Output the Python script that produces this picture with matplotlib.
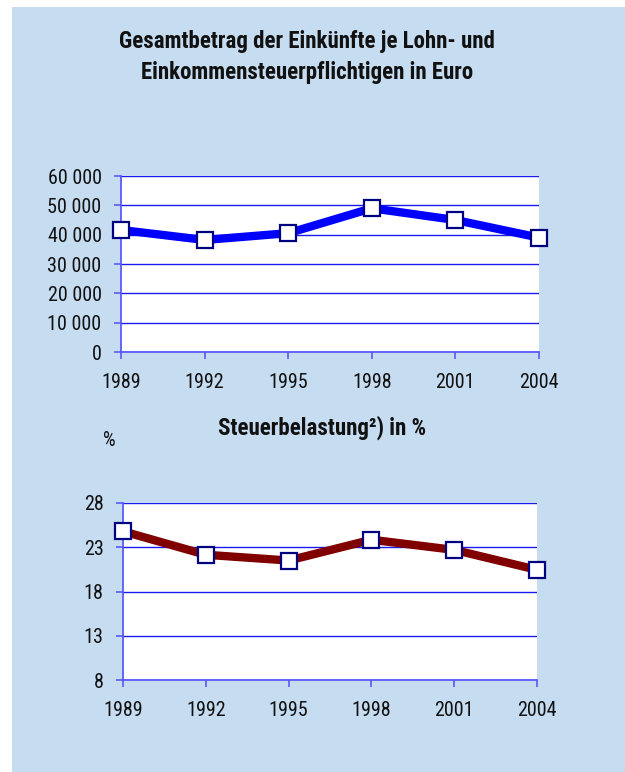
import matplotlib
matplotlib.use("Agg")
import matplotlib.pyplot as plt

years = ["1989", "1992", "1995", "1998", "2001", "2004"]
income = [41600, 38200, 40500, 49000, 45000, 39000]
tax_burden = [24.8, 22.15, 21.5, 23.85, 22.7, 20.45]
income_ticks = [0, 10000, 20000, 30000, 40000, 50000, 60000]
income_ticklabels = ["0", "10 000", "20 000", "30 000", "40 000", "50 000", "60 000"]
tax_ticks = [8, 13, 18, 23, 28]

title1 = "Gesamtbetrag der Einkünfte je Lohn- und\nEinkommensteuerpflichtigen in Euro"
title2 = "Steuerbelastung²) in %"

plt.rcParams["font.family"] = ["Roboto Condensed", "DejaVu Sans"]

W, H = 625, 772
fig = plt.figure(figsize=(W / 100, H / 100), dpi=100)
fig.patch.set_facecolor("white")

def fx(x):
    return x / W

def fy(y):
    return 1 - y / H

bgax = fig.add_axes([fx(12), 0, 1 - fx(12), fy(7)], zorder=-10)
bgax.set_facecolor("#c6dcf1")
bgax.set_xticks([])
bgax.set_yticks([])
for s in bgax.spines.values():
    s.set_visible(False)

def make_axes(left, top, right, bottom):
    return fig.add_axes([fx(left), fy(bottom), fx(right - left), (bottom - top) / H])

def style(ax, ticks, ticklabels, values, color):
    x = list(range(len(years)))
    ax.set_facecolor("white")
    ax.set_xlim(0, len(years) - 1)
    ax.set_ylim(ticks[0], ticks[-1])
    ax.set_yticks(ticks)
    ax.set_yticklabels(ticklabels)
    ax.set_xticks(x)
    ax.set_xticklabels(years)
    for s in ["top", "right"]:
        ax.spines[s].set_visible(False)
    for s in ["left", "bottom"]:
        ax.spines[s].set_color("#5a5aff")
        ax.spines[s].set_linewidth(1.3)
    ax.yaxis.grid(True, color="#1a1aee", linewidth=1.0)
    ax.set_axisbelow(True)
    ax.tick_params(axis="both", colors="#5a5aff", length=5, width=1.2,
                   labelcolor="#111111", labelsize=14.5)
    ax.tick_params(axis="x", pad=10)
    ax.tick_params(axis="y", pad=9)
    ax.plot(x, values, color=color, linewidth=6, solid_joinstyle="round",
            marker="s", markersize=12, markerfacecolor="white",
            markeredgecolor="#000080", markeredgewidth=1.6, clip_on=False, zorder=5)

ax1 = make_axes(121, 176, 539, 352)
style(ax1, income_ticks, income_ticklabels, income, "#0000ff")

ax2 = make_axes(123, 503, 537, 680)
style(ax2, tax_ticks, [str(t) for t in tax_ticks], tax_burden, "#800000")

fig.text(fx(307), fy(57), title1, ha="center", va="center", fontsize=16.5,
         fontweight="bold", linespacing=1.45, color="#111111")
fig.text(fx(322), fy(428), title2, ha="center", va="center", fontsize=16.5,
         fontweight="bold", color="#111111")
fig.text(fx(109), fy(440), "%", ha="center", va="center", fontsize=14.5, color="#111111")

fig.savefig("out.png", dpi=100, facecolor="white")
